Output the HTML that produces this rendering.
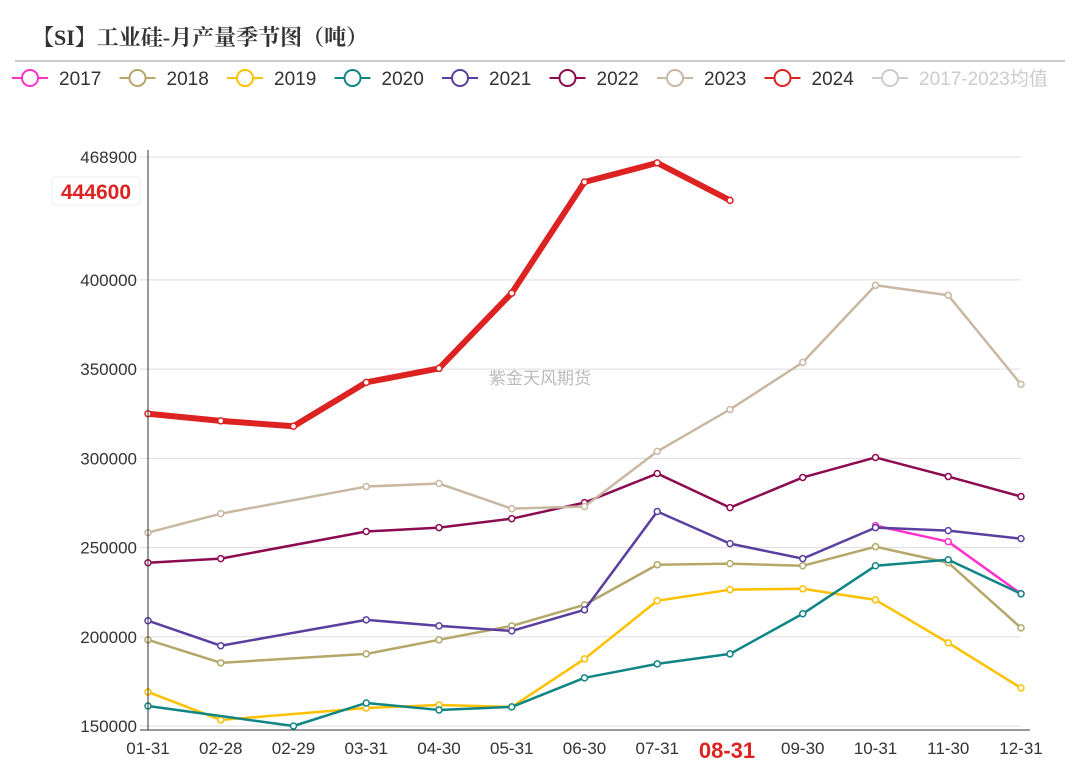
<!DOCTYPE html>
<html><head><meta charset="utf-8"><style>
body{margin:0;background:#fff;width:1080px;height:767px;overflow:hidden}
</style></head><body>
<svg id="c" width="1080" height="767" xmlns="http://www.w3.org/2000/svg" font-family="'Liberation Sans','Noto Sans CJK SC',sans-serif">
<text x="32" y="45" font-size="22" font-weight="bold" fill="#333" font-family="'Liberation Serif','Noto Serif CJK SC',serif">【SI】工业硅-月产量季节图（吨）</text>
<line x1="15" y1="61" x2="1065" y2="61" stroke="#bbb" stroke-width="1.5"/>
<g id="legend"></g>
<g id="grid"></g>
<text x="540" y="384" font-size="17" fill="#bbb" text-anchor="middle">紫金天风期货</text>
<g id="series"></g>
<g id="axes"></g>
</svg>
<script>
const categories=["01-31","02-28","02-29","03-31","04-30","05-31","06-30","07-31","08-31","09-30","10-31","11-30","12-31"];
const years=["2017","2018","2019","2020","2021","2022","2023","2024","2017-2023均值"];
const colors=["#ff33cc","#b5a76a","#ffc000","#0f8585","#5b3fa0","#8b0a50","#c8b8a2","#dd2222","#ccc"];
const yTicks=[150000,200000,250000,300000,350000,400000,468900];
const s2017=[null,null,null,null,null,null,null,null,null,null,262300,253300,224100];
const s2018=[198300,185400,null,190400,198300,206100,217900,240400,241000,239800,250500,241500,205000];
const s2019=[169100,153400,null,160100,161800,160700,187600,220200,226400,226900,220700,196600,171300];
const s2020=[161200,null,150000,162900,159000,160700,177000,184800,190400,212900,239800,243200,224100];
const s2021=[209000,195000,null,209500,206100,203300,215100,270200,252200,243800,261200,259500,255000];
const s2022=[241500,243800,null,259000,261200,266200,275200,291500,272400,289300,300500,289800,278600];
const s2023=[258400,269000,null,284200,285900,271800,273000,303900,327400,353800,397000,391400,341500];
const s2024=[325000,321000,318000,342600,350400,392600,454900,465600,444600,null,null,null,null];
const seriesList=[s2017,s2018,s2019,s2020,s2021,s2022,s2023,s2024];
const NS="http://www.w3.org/2000/svg";
const X0=148,X1=1021,Y0=726,Y1=157,VMIN=150000,VMAX=468900;
const xPos=i=>X0+i*(X1-X0)/(categories.length-1);
const yPos=v=>Y0-(v-VMIN)/(VMAX-VMIN)*(Y0-Y1);
function mk(t,a,p){const e=document.createElementNS(NS,t);for(const k in a)e.setAttribute(k,a[k]);p.appendChild(e);return e;}
const grid=document.getElementById('grid'),axes=document.getElementById('axes'),ser=document.getElementById('series'),leg=document.getElementById('legend');
yTicks.forEach(v=>{const y=yPos(v);
 const l=mk('line',{x1:140,x2:1021,y1:y,y2:y,stroke:'#ddd','stroke-width':1},grid);
 
 
 const t=mk('text',{x:137,y:y+6,'font-size':17,fill:'#333','text-anchor':'end'},axes);t.textContent=v;
 
 
});
const yl=mk('line',{x1:148,x2:148,y1:150,y2:730,stroke:'#333','stroke-width':1},axes);


const xl=mk('line',{x1:140,x2:1030,y1:730,y2:730,stroke:'#333','stroke-width':1},axes);


categories.forEach((c,i)=>{
 const t=mk('text',{x:xPos(i),y:754,'font-size':17,fill:'#333','text-anchor':'middle'},axes);t.textContent=c;
 
 
});
const hi=8;
const hb=mk('rect',{x:xPos(hi)-48,y:735,width:96,height:30,fill:'#fff'},axes);


const ht=mk('text',{x:xPos(hi)-3,y:758,'font-size':22,'font-weight':'bold',fill:'#dd2222','text-anchor':'middle'},axes);ht.textContent=categories[hi];


seriesList.forEach((s,k)=>{
 let d='',pen=false;
 s.forEach((v,i)=>{if(v==null)return;d+=(pen?'L':'M')+xPos(i)+' '+yPos(v)+' ';pen=true;});
 const p=mk('path',{d:d,fill:'none',stroke:colors[k],'stroke-width':k==7?6:2.5,'stroke-linejoin':'round'},ser);
 
 
 s.forEach((v,i)=>{if(v==null)return;
  const c=mk('circle',{cx:xPos(i),cy:yPos(v),r:3,fill:'#fff',stroke:colors[k],'stroke-width':1.5},ser);
  
  
 });
});
const last=s2024[8];
const lb=mk('rect',{x:52,y:177,width:88,height:28,rx:3,fill:'#fff',stroke:'#eee'},axes);


const lt=mk('text',{x:96,y:199,'font-size':21,'font-weight':'bold',fill:'#dd2222','text-anchor':'middle'},axes);lt.textContent=last;


years.forEach((y,k)=>{const x0=12+k*107.5;
 const g=mk('g',{},leg);
 
 
 mk('line',{x1:x0,x2:x0+36,y1:78,y2:78,stroke:colors[k],'stroke-width':2},g);
 mk('circle',{cx:x0+18,cy:78,r:8,fill:'#fff',stroke:colors[k],'stroke-width':2},g);
 const t=mk('text',{x:x0+47,y:85,'font-size':19,fill:k==8?'#ccc':'#333'},g);t.textContent=y;
});
</script>
</body></html>
